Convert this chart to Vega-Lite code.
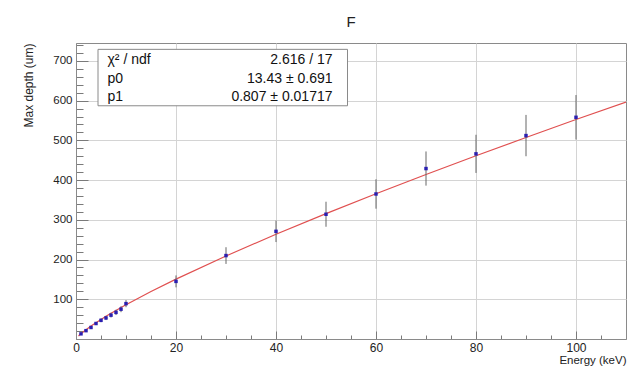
{
  "$schema": "https://vega.github.io/schema/vega-lite/v6.json",
  "width": 550,
  "height": 296,
  "autosize": {"type": "none"},
  "padding": {"left": 76, "top": 43, "right": 2, "bottom": 28},
  "background": "white",
  "title": {"text": "F", "fontSize": 15, "font": "Liberation Sans", "fontWeight": "normal", "anchor": "middle", "offset": 9, "color": "#222"},
  "config": {
    "view": {"stroke": "#8a8a8a", "strokeWidth": 1},
    "axis": {"labelFont": "Liberation Sans", "titleFont": "Liberation Sans", "labelColor": "#222", "titleColor": "#222", "titleFontWeight": "normal", "domainColor": "#8a8a8a", "tickColor": "#7a7a7a", "gridColor": "#d4d4d4"}
  },
  "resolve": {"axis": {"x": "independent", "y": "independent"}},
  "datasets": {
    "pts": [
      {"energy": 1, "depth": 13, "err": 1.3},
      {"energy": 2, "depth": 21, "err": 2.1},
      {"energy": 3, "depth": 29, "err": 2.9},
      {"energy": 4, "depth": 39, "err": 3.9},
      {"energy": 5, "depth": 47, "err": 4.7},
      {"energy": 6, "depth": 53, "err": 5.3},
      {"energy": 7, "depth": 60, "err": 6},
      {"energy": 8, "depth": 67, "err": 6.7},
      {"energy": 9, "depth": 75, "err": 7.5},
      {"energy": 10, "depth": 89, "err": 8.9},
      {"energy": 20, "depth": 145, "err": 15},
      {"energy": 30, "depth": 210, "err": 21},
      {"energy": 40, "depth": 271, "err": 27},
      {"energy": 50, "depth": 314, "err": 31.5},
      {"energy": 60, "depth": 365, "err": 37},
      {"energy": 70, "depth": 429, "err": 43},
      {"energy": 80, "depth": 466, "err": 48},
      {"energy": 90, "depth": 512, "err": 52},
      {"energy": 100, "depth": 558, "err": 56}
    ],
    "fit": [
      {"energy": 0.5, "depth": 7.68},
      {"energy": 0.7, "depth": 10.07},
      {"energy": 1, "depth": 13.43},
      {"energy": 2, "depth": 23.5},
      {"energy": 3, "depth": 32.59},
      {"energy": 4, "depth": 41.11},
      {"energy": 5, "depth": 49.22},
      {"energy": 6, "depth": 57.02},
      {"energy": 7, "depth": 64.58},
      {"energy": 8, "depth": 71.93},
      {"energy": 9, "depth": 79.1},
      {"energy": 10, "depth": 86.12},
      {"energy": 15, "depth": 119.46},
      {"energy": 20, "depth": 150.66},
      {"energy": 30, "depth": 209.0},
      {"energy": 40, "depth": 263.6},
      {"energy": 50, "depth": 315.6},
      {"energy": 60, "depth": 365.6},
      {"energy": 70, "depth": 414.1},
      {"energy": 80, "depth": 461.2},
      {"energy": 90, "depth": 507.2},
      {"energy": 100, "depth": 552.4},
      {"energy": 110, "depth": 596.4}
    ]
  },
  "layer": [
    {
      "encoding": {
        "x": {
          "field": "energy", "type": "quantitative",
          "scale": {"domain": [0, 110], "nice": false, "zero": false},
          "axis": {
            "title": "Energy (keV)", "titleFontSize": 11.5, "titleAnchor": "end", "titleY": 24, "titleBaseline": "alphabetic",
            "values": [0, 5, 10, 15, 20, 25, 30, 35, 40, 45, 50, 55, 60, 65, 70, 75, 80, 85, 90, 95, 100, 105],
            "labelExpr": "datum.value % 20 === 0 ? datum.label : ''",
            "labelFontSize": 12, "labelPadding": 11, "labelFlush": false, "labelOverlap": false,
            "tickSize": {"condition": {"test": "datum.value % 20 === 0", "value": -8}, "value": -4},
            "gridOpacity": {"condition": {"test": "datum.value % 20 === 0 && datum.value > 0", "value": 1}, "value": 0}
          }
        },
        "y": {
          "field": "depth", "type": "quantitative",
          "scale": {"domain": [0, 745], "nice": false, "zero": false},
          "axis": {
            "title": "Max depth (um)", "titleFontSize": 12, "titleAnchor": "end", "titlePadding": 17,
            "values": [20, 40, 60, 80, 100, 120, 140, 160, 180, 200, 220, 240, 260, 280, 300, 320, 340, 360, 380, 400, 420, 440, 460, 480, 500, 520, 540, 560, 580, 600, 620, 640, 660, 680, 700, 720, 740],
            "labelExpr": "datum.value % 100 === 0 ? datum.label : ''",
            "labelFontSize": 11.5, "labelPadding": 16, "labelOverlap": false,
            "tickSize": {"condition": {"test": "datum.value % 100 === 0", "value": -12}, "value": -7},
            "gridOpacity": {"condition": {"test": "datum.value % 100 === 0", "value": 1}, "value": 0}
          }
        }
      },
      "layer": [
        {
          "data": {"name": "fit"},
          "mark": {"type": "line", "color": "#e05050", "strokeWidth": 1.2, "clip": true}
        },
        {
          "data": {"name": "pts"},
          "mark": {"type": "errorbar", "color": "#666666", "thickness": 1},
          "encoding": {"yError": {"field": "err"}}
        },
        {
          "data": {"name": "pts"},
          "mark": {"type": "square", "size": 12, "color": "#2a1fb0", "opacity": 1}
        }
      ]
    },
    {
      "data": {"values": [{}]},
      "mark": {"type": "rect", "fill": "white", "stroke": "#8a8a8a", "strokeWidth": 1},
      "encoding": {
        "x": {"datum": 4.4, "type": "quantitative", "axis": null},
        "x2": {"datum": 54.3},
        "y": {"datum": 729, "type": "quantitative", "axis": null},
        "y2": {"datum": 587}
      }
    },
    {
      "data": {"values": [{}]},
      "mark": {"type": "text", "align": "left", "baseline": "middle", "font": "Liberation Sans", "fontSize": 14, "color": "#111"},
      "encoding": {"x": {"datum": 6.3, "type": "quantitative", "axis": null}, "y": {"datum": 703, "type": "quantitative", "axis": null}, "text": {"value": "χ² / ndf"}}
    },
    {
      "data": {"values": [{}]},
      "mark": {"type": "text", "align": "right", "baseline": "middle", "font": "Liberation Sans", "fontSize": 14, "color": "#111"},
      "encoding": {"x": {"datum": 51.3, "type": "quantitative", "axis": null}, "y": {"datum": 703, "type": "quantitative", "axis": null}, "text": {"value": "2.616 / 17"}}
    },
    {
      "data": {"values": [{}]},
      "mark": {"type": "text", "align": "left", "baseline": "middle", "font": "Liberation Sans", "fontSize": 14, "color": "#111"},
      "encoding": {"x": {"datum": 6.3, "type": "quantitative", "axis": null}, "y": {"datum": 655, "type": "quantitative", "axis": null}, "text": {"value": "p0"}}
    },
    {
      "data": {"values": [{}]},
      "mark": {"type": "text", "align": "right", "baseline": "middle", "font": "Liberation Sans", "fontSize": 14, "color": "#111"},
      "encoding": {"x": {"datum": 51.3, "type": "quantitative", "axis": null}, "y": {"datum": 655, "type": "quantitative", "axis": null}, "text": {"value": "13.43 ± 0.691"}}
    },
    {
      "data": {"values": [{}]},
      "mark": {"type": "text", "align": "left", "baseline": "middle", "font": "Liberation Sans", "fontSize": 14, "color": "#111"},
      "encoding": {"x": {"datum": 6.3, "type": "quantitative", "axis": null}, "y": {"datum": 608, "type": "quantitative", "axis": null}, "text": {"value": "p1"}}
    },
    {
      "data": {"values": [{}]},
      "mark": {"type": "text", "align": "right", "baseline": "middle", "font": "Liberation Sans", "fontSize": 14, "color": "#111"},
      "encoding": {"x": {"datum": 51.3, "type": "quantitative", "axis": null}, "y": {"datum": 608, "type": "quantitative", "axis": null}, "text": {"value": "0.807 ± 0.01717"}}
    }
  ]
}
